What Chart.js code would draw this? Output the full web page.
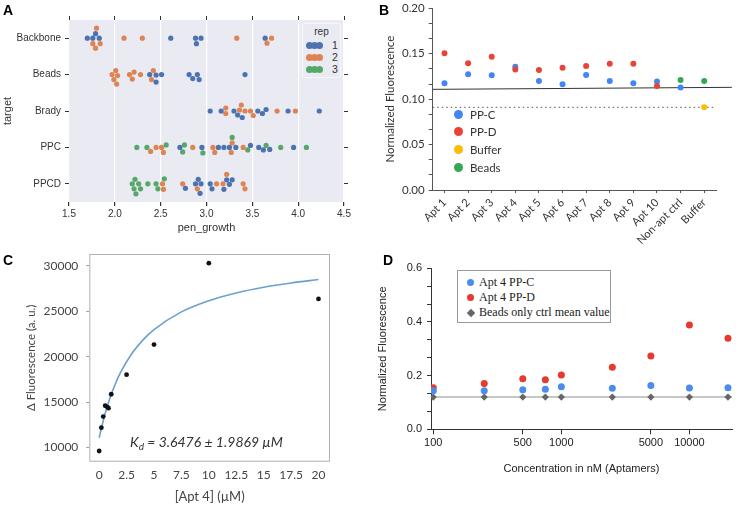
<!DOCTYPE html>
<html>
<head>
<meta charset="utf-8">
<script src="https://cdn.jsdelivr.net/npm/chart.js@4.4.1/dist/chart.umd.min.js"></script>
<style>
  body { margin: 0; background: #fff; width: 736px; height: 505px; position: relative; overflow: hidden; }
  canvas { position: absolute; }
  .panel { position: absolute; font: bold 14px "Liberation Sans", Arial, sans-serif; line-height: 14px; color: #000; }
  .leg { position: absolute; }
  .dot { position: absolute; border-radius: 50%; }
</style>
</head>
<body>
<canvas id="chartA" width="368" height="245" style="left:0;top:0"></canvas>
<canvas id="chartB" width="366" height="250" style="left:370px;top:0"></canvas>
<canvas id="chartC" width="368" height="255" style="left:0;top:250px"></canvas>
<canvas id="chartD" width="366" height="255" style="left:370px;top:250px"></canvas>

<div class="panel" style="left:3px;top:3px">A</div>
<div class="panel" style="left:379px;top:3px">B</div>
<div class="panel" style="left:3px;top:253px">C</div>
<div class="panel" style="left:383px;top:253px">D</div>

<div id="legA" class="leg" style="left:302px;top:23px;width:37px;height:53px;background:#eaeaf2;border:1px solid #f7f7fa;border-radius:2px;font:10px 'Liberation Sans',Arial,sans-serif;color:#333">
  <div style="position:absolute;left:0;top:2px;width:100%;text-align:center">rep</div>
</div>
<div id="legB" class="leg" style="left:450px;top:104px;width:80px;height:75px;font:11.5px Lato,sans-serif;color:#333"></div>
<div id="legD" class="leg" style="left:457px;top:270px;width:152px;height:51px;background:#fff;border:1px solid #999;font:12px 'Liberation Serif','Times New Roman',serif;color:#222"></div>
<div class="leg" style="left:130px;top:433px;font:italic 14px Lato,sans-serif;color:#333;white-space:nowrap">K<sub style="font-size:10px;vertical-align:-3px">d</sub> = 3.6476 ± 1.9869 µM</div>

<script>
// ---------- A: swarm of pen_growth by target ----------
const aCats = ["Backbone", "Beads", "Brady", "PPC", "PPCD"];
const aTickLabels = ["1.5", "2.0", "2.5", "3.0", "3.5", "4.0", "4.5"];
const aReps = ["1", "2", "3"];
const aColors = ["#4c72b0", "#dd8452", "#55a868"];
const aRep1 = [
  [1.70, 1.76, 1.79, 1.83, 2.61, 2.88, 2.89, 2.94, 3.64],
  [2.38, 2.45, 2.45, 2.51, 2.81, 2.85, 2.90, 2.92, 3.42],
  [3.04, 3.16, 3.30, 3.34, 3.39, 3.56, 3.61, 3.65, 3.89, 4.23],
  [2.71, 2.95, 3.13, 3.19, 3.25, 3.32, 3.48, 3.57, 3.62, 3.69, 3.95],
  [2.77, 2.88, 2.91, 2.93, 2.94, 3.04, 3.06, 3.19, 3.22, 3.25, 3.28]
];
const aRep2 = [
  [1.76, 1.79, 1.80, 1.84, 2.10, 2.30, 3.33, 3.66, 3.71],
  [1.97, 1.99, 2.01, 2.02, 2.03, 2.16, 2.19, 2.21, 2.28, 2.40, 2.42],
  [3.21, 3.21, 3.36, 3.38, 3.42, 3.48, 3.51, 3.77, 3.97],
  [2.39, 2.45, 2.51, 2.53, 2.85, 3.07, 3.09, 3.27, 3.28, 3.40],
  [2.52, 2.53, 2.74, 2.90, 3.11, 3.18, 3.22, 3.40, 3.42]
];
const aRep3 = [
  [], [], [],
  [2.24, 2.35, 2.56, 2.74, 2.76, 2.96, 3.28, 3.45, 3.65, 3.81, 4.09],
  [2.19, 2.21, 2.22, 2.23, 2.26, 2.28, 2.36, 2.45, 2.47, 2.54]
];

// ---------- B: normalized fluorescence per aptamer ----------
const bLabels = ["Apt 1", "Apt 2", "Apt 3", "Apt 4", "Apt 5", "Apt 6", "Apt 7", "Apt 8", "Apt 9", "Apt 10", "Non-apt ctrl", "Buffer"];
const bNames = ["PP-C", "PP-D", "Buffer", "Beads"];
const bColors = ["#4285f4", "#ea4335", "#fbbc05", "#34a853"];
const bPPC = [0.1174, 0.1273, 0.1262, 0.1358, 0.1200, 0.1163, 0.1266, 0.1200, 0.1174, 0.1193, 0.1127, null];
const bPPD = [0.1505, 0.1394, 0.1468, 0.1325, 0.1321, 0.1347, 0.1365, 0.1391, 0.1391, 0.1145, null, null];
const bBuffer = [null, null, null, null, null, null, null, null, null, null, null, 0.0910];
const bBeads = [null, null, null, null, null, null, null, null, null, null, 0.1211, 0.1200];
const bTrendX = [0.5, 13.17];
const bTrendY = [0.1108, 0.1130];
const bBufferLineX = [0.5, 12.5];
const bBufferLineY = [0.091, 0.091];
const bYTicks = ["0.00", "0.05", "0.10", "0.15", "0.20"];

// ---------- C: binding curve ----------
const cConc = [0, 0.2, 0.37, 0.55, 0.75, 0.85, 1.1, 2.5, 5, 10, 20];
const cSignal = [9620, 12186, 13409, 14600, 14450, 14330, 15866, 18014, 21336, 30290, 26354];
const cFitX = [0, 0.5, 1, 1.5, 2, 3, 4, 5, 7.5, 10, 12.5, 15, 17.5, 20];
const cFitY = [11080, 13560, 15510, 17080, 18370, 20370, 21850, 22980, 24930, 26160, 27010, 27640, 28110, 28490];
const cXTicks = ["0", "2.5", "5", "7.5", "10", "12.5", "15", "17.5", "20"];
const cYTicks = ["10000", "15000", "20000", "25000", "30000"];

// ---------- D: concentration series ----------
const dConc = [100, 250, 500, 750, 1000, 2500, 5000, 10000, 20000];
const dPPC = [0.144, 0.144, 0.147, 0.149, 0.159, 0.153, 0.163, 0.154, 0.155];
const dPPD = [0.155, 0.171, 0.188, 0.185, 0.202, 0.231, 0.273, 0.389, 0.339];
const dBeads = [0.12, 0.12, 0.12, 0.12, 0.12, 0.12, 0.12, 0.12, 0.12];
const dBeadsLineX = [96, 21500];
const dBeadsLineY = [0.12, 0.12];
const dNames = ["Apt 4 PP-C", "Apt 4 PP-D", "Beads only ctrl mean value"];
const dColors = ["#4a8cf0", "#e8392f", "#666666"];
const dXTicks = ["100", "500", "1000", "5000", "10000"];
const dYTicks = ["0.0", "0.2", "0.4", "0.6"];

const sans = '"Liberation Sans", Arial, sans-serif';
const lato = 'Lato, "Open Sans", sans-serif';

const bgPlugin = {
  id: "bg",
  beforeDraw(chart, args, opts) {
    if (!opts.color) return;
    const { ctx, chartArea: a } = chart;
    ctx.save();
    ctx.fillStyle = opts.color;
    ctx.fillRect(a.left, a.top, a.width, a.height);
    ctx.restore();
  }
};
const framePlugin = {
  id: "frame",
  beforeDatasetsDraw(chart, args, opts) {
    if (!opts.color) return;
    const { ctx, chartArea: a } = chart;
    ctx.save();
    ctx.strokeStyle = opts.color;
    ctx.lineWidth = 1;
    ctx.strokeRect(a.left + 0.5, a.top + 0.5, a.width - 1, a.height - 1);
    ctx.restore();
  }
};

const fixW = w => s => { s.width = w; s.paddingTop = 0; s.paddingBottom = 0; };
const fixH = h => s => { s.height = h; s.paddingLeft = 0; s.paddingRight = 0; };
const pairs = (xs, ys) => xs.map((x, i) => ({ x: x, y: ys[i] })).filter(p => p.y !== null);
const idxPairs = ys => pairs(ys.map((v, i) => i + 1), ys);

// simple beeswarm: place points (sorted by value) as close to the centre line as possible
function swarm(reps, pxX, pxY, d) {
  const out = reps.map(() => []);
  aCats.forEach((c, ci) => {
    const pts = [];
    reps.forEach((r, ri) => r[ci].forEach(v => pts.push({ ri: ri, v: v })));
    pts.sort((p, q) => p.v - q.v);
    const placed = [];
    pts.forEach(p => {
      let off = 0;
      for (let k = 0; k < 400; k++) {
        off = (k % 2 ? 1 : -1) * Math.ceil(k / 2) * 0.5;
        if (placed.every(q => Math.hypot((p.v - q.v) * pxX, off - q.off) >= d)) break;
      }
      p.off = off;
      placed.push(p);
      out[p.ri].push({ x: p.v, y: ci + off / pxY });
    });
  });
  return out;
}

const aSwarm = swarm([aRep1, aRep2, aRep3], 275 / 3, 182 / 5, 5.2);

new Chart(document.getElementById("chartA"), {
  type: "scatter",
  data: {
    datasets: aSwarm.map((pts, i) => ({
      label: aReps[i], data: pts, backgroundColor: aColors[i],
      pointRadius: 2.6, borderWidth: 0
    }))
  },
  plugins: [bgPlugin],
  options: {
    responsive: false, animation: false,
    layout: { padding: { left: 0, right: 18, top: 14, bottom: 0 } },
    plugins: { legend: { display: false }, tooltip: { enabled: false }, bg: { color: "#eaeaf2" } },
    scales: {
      x: {
        type: "linear", position: "bottom", min: 1.5, max: 4.5,
        afterBuildTicks: s => { s.ticks = aTickLabels.map(t => ({ value: +t })); },
        afterFit: fixH(43),
        ticks: { callback: (v, i) => aTickLabels[i], color: "#333", font: { family: sans, size: 10 }, padding: 2, maxRotation: 0, autoSkip: false },
        grid: { color: "#ffffff", lineWidth: 1.2, tickColor: "#333", tickLength: 4 },
        border: { display: false },
        title: { display: true, text: "pen_growth", color: "#333", font: { family: sans, size: 11 }, padding: { top: 0, bottom: 10 } }
      },
      xTop: {
        type: "linear", position: "top", min: 1.5, max: 4.5,
        afterBuildTicks: s => { s.ticks = aTickLabels.map(t => ({ value: +t })); },
        afterFit: fixH(6),
        ticks: { display: false },
        grid: { drawOnChartArea: false, tickColor: "#333", tickLength: 4 },
        border: { display: false }
      },
      y: {
        type: "linear", position: "left", reverse: true, min: -0.5, max: 4.5,
        afterBuildTicks: s => { s.ticks = aCats.map((c, i) => ({ value: i })); },
        afterFit: fixW(69),
        ticks: { callback: (v, i) => aCats[i], color: "#333", font: { family: sans, size: 10 }, padding: 4, autoSkip: false },
        grid: { drawOnChartArea: false, tickColor: "#333", tickLength: 4 },
        border: { display: false },
        title: { display: true, text: "target", color: "#333", font: { family: sans, size: 11 }, padding: { top: 1.4, bottom: 0 } }
      },
      yRight: {
        type: "linear", position: "right", reverse: true, min: -0.5, max: 4.5,
        afterBuildTicks: s => { s.ticks = aCats.map((c, i) => ({ value: i })); },
        afterFit: fixW(6),
        ticks: { display: false },
        grid: { drawOnChartArea: false, tickColor: "#333", tickLength: 4 },
        border: { display: false }
      }
    }
  }
});

// legend A
const legA = document.getElementById("legA");
aReps.forEach((r, i) => {
  const cy = 21 + i * 12;
  for (let j = 0; j < 3; j++) {
    const d = document.createElement("div");
    d.className = "dot";
    d.style.cssText = `left:${3 + j * 5}px;top:${cy - 3.5}px;width:7px;height:7px;background:${aColors[i]}`;
    legA.appendChild(d);
  }
  const t = document.createElement("div");
  t.style.cssText = `position:absolute;left:29px;top:${cy - 6.5}px;line-height:12px;font-size:10.5px`;
  t.textContent = r;
  legA.appendChild(t);
});

// ---------- chart B ----------
new Chart(document.getElementById("chartB"), {
  type: "scatter",
  data: {
    datasets: [
      { data: pairs(bTrendX, bTrendY), showLine: true, borderColor: "#333", borderWidth: 1, pointRadius: 0, clip: false, order: 5 },
      { data: pairs(bBufferLineX, bBufferLineY), showLine: true, borderColor: "#555", borderWidth: 1, borderDash: [1.5, 3], pointRadius: 0, order: 5 },
      { label: bNames[0], data: idxPairs(bPPC), backgroundColor: bColors[0], pointRadius: 3, borderWidth: 0, order: 3 },
      { label: bNames[1], data: idxPairs(bPPD), backgroundColor: bColors[1], pointRadius: 3, borderWidth: 0, order: 2 },
      { label: bNames[2], data: idxPairs(bBuffer), backgroundColor: bColors[2], pointRadius: 3, borderWidth: 0, order: 1 },
      { label: bNames[3], data: idxPairs(bBeads), backgroundColor: bColors[3], pointRadius: 3, borderWidth: 0, order: 1 }
    ]
  },
  options: {
    responsive: false, animation: false,
    layout: { padding: { left: 0, right: 20, top: 8.3, bottom: 0 } },
    plugins: { legend: { display: false }, tooltip: { enabled: false } },
    scales: {
      x: {
        type: "linear", min: 0.5, max: 12.5,
        afterBuildTicks: s => { s.ticks = bLabels.map((l, i) => ({ value: i + 1 })); },
        afterFit: fixH(60),
        ticks: { callback: (v, i) => bLabels[i], color: "#333", font: { family: lato, size: 11 }, padding: 3, minRotation: 45, maxRotation: 45, autoSkip: false },
        grid: { drawOnChartArea: false, tickColor: "#555", tickLength: 3 },
        border: { color: "#555" }
      },
      y: {
        type: "linear", min: 0, max: 0.2,
        afterBuildTicks: s => { s.ticks = Array.from({ length: 13 }, (_, i) => ({ value: i * 0.2 / 12 })); },
        afterFit: fixW(62.7),
        ticks: { callback: (v, i) => (i % 3 === 0 ? bYTicks[i / 3] : ""), color: "#333", font: { family: lato, size: 11.5 }, padding: 4, autoSkip: false },
        grid: { drawOnChartArea: false, tickColor: "#555", tickLength: 4 },
        border: { color: "#555" },
        title: { display: true, text: "Normalized Fluorescence", color: "#333", font: { family: lato, size: 11.5 }, padding: { top: 13, bottom: 0 } }
      }
    }
  }
});

const legB = document.getElementById("legB");
bNames.forEach((n, i) => {
  const cy = 10 + i * 17.7;
  const d = document.createElement("div");
  d.className = "dot";
  d.style.cssText = `left:3.5px;top:${cy - 4.5}px;width:9px;height:9px;background:${bColors[i]}`;
  legB.appendChild(d);
  const t = document.createElement("div");
  t.style.cssText = `position:absolute;left:20px;top:${cy - 7.5}px;line-height:15px`;
  t.textContent = n;
  legB.appendChild(t);
});

// ---------- chart C ----------
new Chart(document.getElementById("chartC"), {
  type: "scatter",
  data: {
    datasets: [
      { data: pairs(cFitX, cFitY), showLine: true, borderColor: "#6b9fd0", borderWidth: 1.6, pointRadius: 0, cubicInterpolationMode: "monotone", order: 2 },
      { data: pairs(cConc, cSignal), backgroundColor: "#111", pointRadius: 2.4, borderWidth: 0, order: 1 }
    ]
  },
  plugins: [framePlugin],
  options: {
    responsive: false, animation: false,
    layout: { padding: { left: 0, right: 38, top: 0.7, bottom: 0 } },
    plugins: { legend: { display: false }, tooltip: { enabled: false }, frame: { color: "#b0b0b0" } },
    scales: {
      x: {
        type: "linear", min: -0.9, max: 21.05,
        afterBuildTicks: s => { s.ticks = cXTicks.map(t => ({ value: +t })); },
        afterFit: fixH(43.3),
        ticks: { callback: (v, i) => cXTicks[i], color: "#444", font: { family: lato, size: 12 }, padding: 6, maxRotation: 0, autoSkip: false },
        grid: { display: true, drawOnChartArea: false, drawTicks: false },
        border: { display: false },
        title: { display: true, text: "[Apt 4] (µM)", color: "#444", font: { family: lato, size: 13 }, padding: { top: 0, bottom: 0.5 } }
      },
      y: {
        type: "linear", min: 8440, max: 31300,
        afterBuildTicks: s => { s.ticks = cYTicks.map(t => ({ value: +t })); },
        afterFit: fixW(89.3),
        ticks: { callback: (v, i) => cYTicks[i], color: "#444", font: { family: lato, size: 12 }, padding: 8, autoSkip: false },
        grid: { drawOnChartArea: false, tickColor: "#999", tickLength: 3 },
        border: { display: false },
        title: { display: true, text: "Δ Fluorescence (a. u.)", color: "#444", font: { family: lato, size: 11.5 }, padding: { top: 24.8, bottom: 0 } }
      }
    }
  }
});

// ---------- chart D ----------
new Chart(document.getElementById("chartD"), {
  type: "scatter",
  data: {
    datasets: [
      { data: pairs(dBeadsLineX, dBeadsLineY), showLine: true, borderColor: "#b5b5b5", borderWidth: 1.5, pointRadius: 0, order: 5 },
      { label: dNames[2], data: pairs(dConc, dBeads), backgroundColor: dColors[2], pointStyle: "rectRot", pointRadius: 3.6, borderWidth: 0, order: 4 },
      { label: dNames[1], data: pairs(dConc, dPPD), backgroundColor: dColors[1], pointRadius: 3.5, borderWidth: 0, order: 3 },
      { label: dNames[0], data: pairs(dConc, dPPC), backgroundColor: dColors[0], pointRadius: 3.5, borderWidth: 0, order: 2 }
    ]
  },
  options: {
    responsive: false, animation: false,
    layout: { padding: { left: 0, right: 3, top: 18.3, bottom: 0 } },
    plugins: { legend: { display: false }, tooltip: { enabled: false } },
    scales: {
      x: {
        type: "logarithmic", min: 96, max: 21500,
        afterBuildTicks: s => { s.ticks = dXTicks.map(t => ({ value: +t })); },
        afterFit: fixH(75.7),
        ticks: { callback: (v, i) => dXTicks[i], color: "#222", font: { family: sans, size: 11 }, padding: 2, maxRotation: 0, autoSkip: false },
        grid: { drawOnChartArea: false, tickColor: "#333", tickLength: 5 },
        border: { color: "#333" },
        title: { display: true, text: "Concentration in nM (Aptamers)", color: "#222", font: { family: sans, size: 11 }, padding: { top: 0, bottom: 29.4 } }
      },
      y: {
        type: "linear", min: 0, max: 0.6,
        afterBuildTicks: s => { s.ticks = Array.from({ length: 10 }, (_, i) => ({ value: i * 0.6 / 9 })); },
        afterFit: fixW(61),
        ticks: { callback: (v, i) => (i % 3 === 0 ? dYTicks[i / 3] : ""), color: "#222", font: { family: sans, size: 11 }, padding: 5, autoSkip: false },
        grid: { drawOnChartArea: false, tickColor: "#333", tickLength: 4 },
        border: { color: "#333" },
        title: { display: true, text: "Normalized Fluorescence", color: "#222", font: { family: sans, size: 11 }, padding: { top: 6.4, bottom: 0 } }
      }
    }
  }
});

const legD = document.getElementById("legD");
dNames.forEach((n, i) => {
  const cy = 11.7 + i * 15;
  const d = document.createElement("div");
  if (i === 2) {
    d.style.cssText = `position:absolute;left:9.5px;top:${cy - 3}px;width:6px;height:6px;background:${dColors[i]};transform:rotate(45deg)`;
  } else {
    d.className = "dot";
    d.style.cssText = `left:8.8px;top:${cy - 3.5}px;width:7px;height:7px;background:${dColors[i]}`;
  }
  legD.appendChild(d);
  const t = document.createElement("div");
  t.style.cssText = `position:absolute;left:21px;top:${cy - 7.5}px;line-height:15px;white-space:nowrap`;
  t.textContent = n;
  legD.appendChild(t);
});
</script>
</body>
</html>
